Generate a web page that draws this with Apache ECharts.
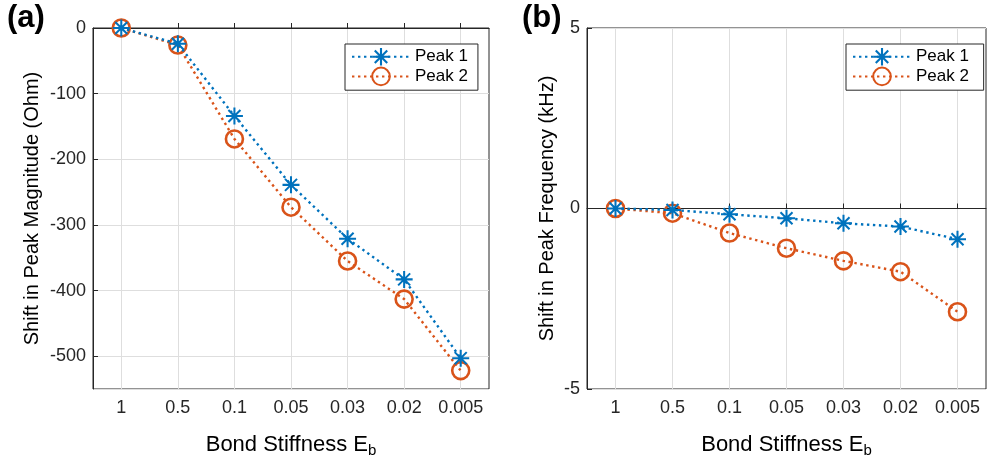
<!DOCTYPE html>
<html>
<head>
<meta charset="utf-8">
<script src="https://cdn.jsdelivr.net/npm/echarts@6/dist/echarts.min.js"></script>
<style>
  html, body { margin: 0; padding: 0; background: #fff; }
  #chart { width: 987px; height: 458px; }
</style>
</head>
<body>
<div id="chart"></div>
<script>
// stiffness categories (x axis)
var stiffness = ['1', '0.5', '0.1', '0.05', '0.03', '0.02', '0.005'];

// (a) shift in peak magnitude (Ohm)
var magPeak1 = [0, -24, -134, -239, -321, -383, -503];
var magPeak2 = [0, -26, -169, -273, -355, -413, -522];

// (b) shift in peak frequency (kHz)
var freqPeak1 = [0, -0.04, -0.16, -0.27, -0.41, -0.5, -0.85];
var freqPeak2 = [0, -0.13, -0.68, -1.1, -1.45, -1.75, -2.86];

var blue = '#0072BD';
var orange = '#D95319';
var ink = '#262626';
var font = 'Liberation Sans, Arial';

// asterisk marker like matlab '*'
var asterisk = 'path://M8.8 0L11.2 0L11.2 20L8.8 20Z M0 8.8L20 8.8L20 11.2L0 11.2Z ' +
  'M3.78 2.08L17.92 16.22L16.22 17.92L2.08 3.78Z M16.22 2.08L17.92 3.78L3.78 17.92L2.08 16.22Z';

var myChart = echarts.init(document.getElementById('chart'));

function xAxisFor(idx) {
  return {
    type: 'category',
    gridIndex: idx,
    data: stiffness,
    boundaryGap: true,
    axisLine: { lineStyle: { color: ink, width: 1 } },
    axisTick: { show: true, inside: true, alignWithLabel: true, interval: 0, length: 5, lineStyle: { color: ink } },
    axisLabel: { color: ink, fontSize: 18, margin: 10, interval: 0, hideOverlap: false, fontFamily: font },
    splitLine: { show: true, alignWithLabel: true, interval: 0, lineStyle: { color: '#dedede', width: 1 } },
    name: '{t|Bond Stiffness E}{s|b}',
    nameLocation: 'middle',
    nameGap: 42,
    nameTextStyle: {
      rich: {
        t: { fontSize: 22, color: '#000', fontFamily: font },
        s: { fontSize: 15, color: '#000', fontFamily: font, padding: [12, 0, 0, 0] }
      }
    }
  };
}

function legendFor(names, left) {
  return {
    data: names,
    orient: 'vertical',
    left: left, top: 44,
    backgroundColor: '#fff',
    borderColor: ink, borderWidth: 1,
    padding: [4, 10, 4, 6],
    itemWidth: 58, itemHeight: 22, itemGap: 1,
    textStyle: { fontSize: 17, color: '#000', fontFamily: font }
  };
}

function line1(name, idx, data) {
  return {
    name: name, type: 'line', xAxisIndex: idx, yAxisIndex: idx, data: data,
    symbol: asterisk, symbolSize: 17, z: 3,
    lineStyle: { color: blue, width: 2.4, type: [2.4, 3.6] },
    itemStyle: { color: blue, borderWidth: 0 }
  };
}

function line2(name, idx, data) {
  return {
    name: name, type: 'line', xAxisIndex: idx, yAxisIndex: idx, data: data,
    symbol: 'circle', symbolSize: 17, z: 2,
    lineStyle: { color: orange, width: 2.4, type: [2.4, 3.6] },
    itemStyle: { color: 'rgba(0,0,0,0)', borderColor: orange, borderWidth: 2.6 }
  };
}

var option = {
  animation: false,
  backgroundColor: '#fff',
  graphic: [
    { type: 'text', left: 7, top: 3, style: { text: '(a)', font: 'bold 31px Liberation Sans, Arial', fill: '#000' } },
    { type: 'text', left: 522, top: 3, style: { text: '(b)', font: 'bold 31px Liberation Sans, Arial', fill: '#000' } }
  ],
  grid: [
    { left: 93, right: 498, top: 28, bottom: 69, outerBoundsMode: 'none', show: true, borderColor: ink, borderWidth: 1 },
    { left: 587, right: 1, top: 28, bottom: 69, outerBoundsMode: 'none', show: true, borderColor: ink, borderWidth: 1 }
  ],
  legend: [
    legendFor(['Peak 1', 'Peak 2'], 345),
    legendFor(['Peak 1 ', 'Peak 2 '], 846)
  ],
  xAxis: [xAxisFor(0), xAxisFor(1)],
  yAxis: [
    {
      type: 'value',
      gridIndex: 0,
      min: -550, max: 0,
      axisLine: { show: true, lineStyle: { color: ink } },
      axisTick: { show: true, inside: true, length: 5, lineStyle: { color: ink } },
      axisLabel: { color: ink, fontSize: 18, margin: 7, showMinLabel: false, fontFamily: font },
      splitLine: { show: true, lineStyle: { color: '#dedede', width: 1 } },
      name: 'Shift in Peak Magnitude (Ohm)',
      nameLocation: 'middle',
      nameGap: 51,
      nameTextStyle: { fontSize: 20, color: '#000', fontFamily: font }
    },
    {
      type: 'value',
      gridIndex: 1,
      min: -5, max: 5, interval: 5,
      axisLine: { show: true, lineStyle: { color: ink } },
      axisTick: { show: true, inside: true, length: 5, lineStyle: { color: ink } },
      axisLabel: { color: ink, fontSize: 18, margin: 7, fontFamily: font },
      splitLine: { show: true, lineStyle: { color: '#dedede', width: 1 } },
      name: 'Shift in Peak Frequency (kHz)',
      nameLocation: 'middle',
      nameGap: 30,
      nameTextStyle: { fontSize: 20, color: '#000', fontFamily: font }
    }
  ],
  series: [
    line1('Peak 1', 0, magPeak1),
    line2('Peak 2', 0, magPeak2),
    line1('Peak 1 ', 1, freqPeak1),
    line2('Peak 2 ', 1, freqPeak2)
  ]
};

myChart.setOption(option, true);
</script>
</body>
</html>
